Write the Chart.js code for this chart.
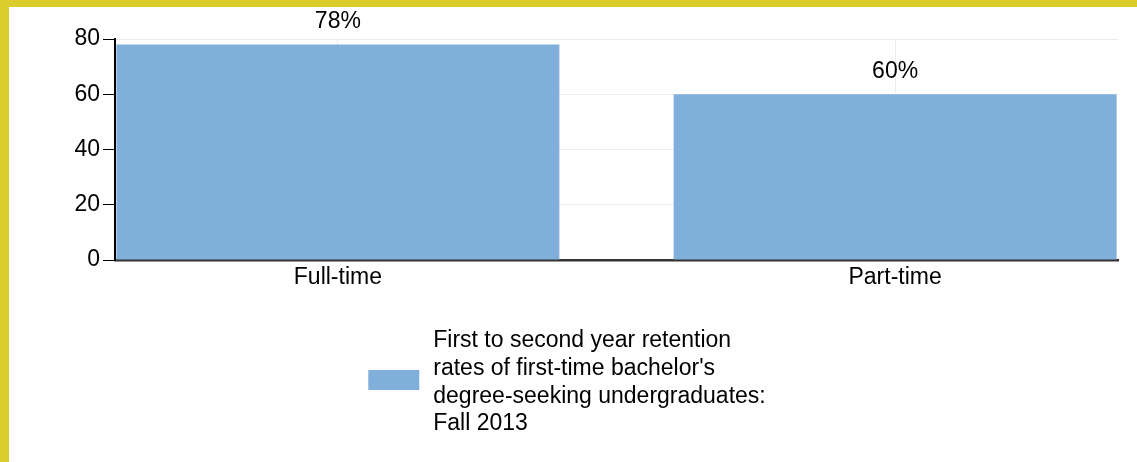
<!DOCTYPE html>
<html lang="en">
<head>
    <meta charset="UTF-8">
    <title>Retention rates</title>
    <script src="https://cdn.jsdelivr.net/npm/chart.js"></script>
    <style>
        body { margin: 0; background: #dacd2c; }
        #wrap { position: absolute; left: 9px; top: 7px; width: 1128px; height: 455px; background: #fff; }
    </style>
</head>
<body>
    <div id="wrap"><canvas id="retentionChart"></canvas></div>

    <script>
        var categories = ['Full-time', 'Part-time'];
        var retention = [78, 60];
        var yTicks = [0, 20, 40, 60, 80];
        var seriesLabel = ['First to second year retention', "rates of first-time bachelor's", 'degree-seeking undergraduates:', 'Fall 2013'];

        var FONT = '"Liberation Sans", Arial, sans-serif';
        var FONT_SIZE = 23;

        // percent labels above each bar
        var valueLabels = {
            id: 'valueLabels',
            afterDatasetsDraw: function(chart) {
                var ctx = chart.ctx;
                var meta = chart.getDatasetMeta(0);
                ctx.save();
                ctx.font = FONT_SIZE + 'px ' + FONT;
                ctx.fillStyle = '#000';
                ctx.textAlign = 'center';
                ctx.textBaseline = 'middle';
                meta.data.forEach(function(bar, i) {
                    ctx.fillText(retention[i] + '%', bar.x, bar.y - 23);
                });
                ctx.restore();
            }
        };

        // legend with a wrapped label, under the plot
        var boxLegend = {
            id: 'boxLegend',
            afterDraw: function(chart) {
                var ctx = chart.ctx;
                var ds = chart.data.datasets[0];
                ctx.save();
                ctx.font = FONT_SIZE + 'px ' + FONT;
                var textW = Math.max.apply(null, seriesLabel.map(function(l) { return ctx.measureText(l).width; }));
                var boxW = 51, boxH = 20, gap = 14, lineH = 27.7;
                var x0 = (chart.width - (boxW + gap + textW)) / 2 - 6;
                var midY = chart.chartArea.bottom + 122.5;
                ctx.fillStyle = ds.backgroundColor;
                ctx.fillRect(x0, chart.chartArea.bottom + 120 - boxH / 2, boxW, boxH);
                ctx.fillStyle = '#000';
                ctx.textAlign = 'left';
                ctx.textBaseline = 'middle';
                seriesLabel.forEach(function(l, i) {
                    ctx.fillText(l, x0 + boxW + gap, midY + (i - (seriesLabel.length - 1) / 2) * lineH);
                });
                ctx.restore();
            }
        };

        var ctx = document.getElementById('retentionChart').getContext('2d');
        var chart = new Chart(ctx, {
            type: 'bar',
            data: {
                datasets: [{
                    label: seriesLabel.join(' '),
                    data: retention.map(function(v, i) { return { x: i, y: v }; }),
                    backgroundColor: '#80afdc',
                    borderWidth: 0,
                    barPercentage: 0.795,
                    categoryPercentage: 1
                }]
            },
            options: {
                responsive: true,
                maintainAspectRatio: false,
                animation: false,
                layout: { padding: { left: 0, right: 19, top: 32, bottom: 0 } },
                plugins: {
                    legend: { display: false },
                    tooltip: { enabled: false }
                },
                scales: {
                    x: {
                        type: 'linear',
                        offset: false,
                        min: -0.4,
                        max: 1.4,
                        afterBuildTicks: function(s) {
                            s.ticks = categories.map(function(c, i) { return { value: i }; });
                        },
                        afterFit: function(s) { s.height = 202; },
                        ticks: {
                            callback: function(v) { return categories[v]; },
                            color: '#000',
                            padding: 4,
                            maxRotation: 0,
                            font: { family: FONT, size: FONT_SIZE }
                        },
                        grid: { color: '#ececec', drawTicks: false, offset: false },
                        border: { color: '#333', width: 2.5 }
                    },
                    y: {
                        min: yTicks[0],
                        max: yTicks[yTicks.length - 1],
                        afterBuildTicks: function(s) {
                            s.ticks = yTicks.map(function(v) { return { value: v }; });
                        },
                        afterFit: function(s) { s.width = 106; },
                        ticks: {
                            color: '#000',
                            padding: 3,
                            font: { family: FONT, size: FONT_SIZE }
                        },
                        grid: { color: '#ececec', tickColor: '#000', tickLength: 12 },
                        border: { color: '#000', width: 2 }
                    }
                }
            },
            plugins: [valueLabels, boxLegend]
        });
    </script>
</body>
</html>
